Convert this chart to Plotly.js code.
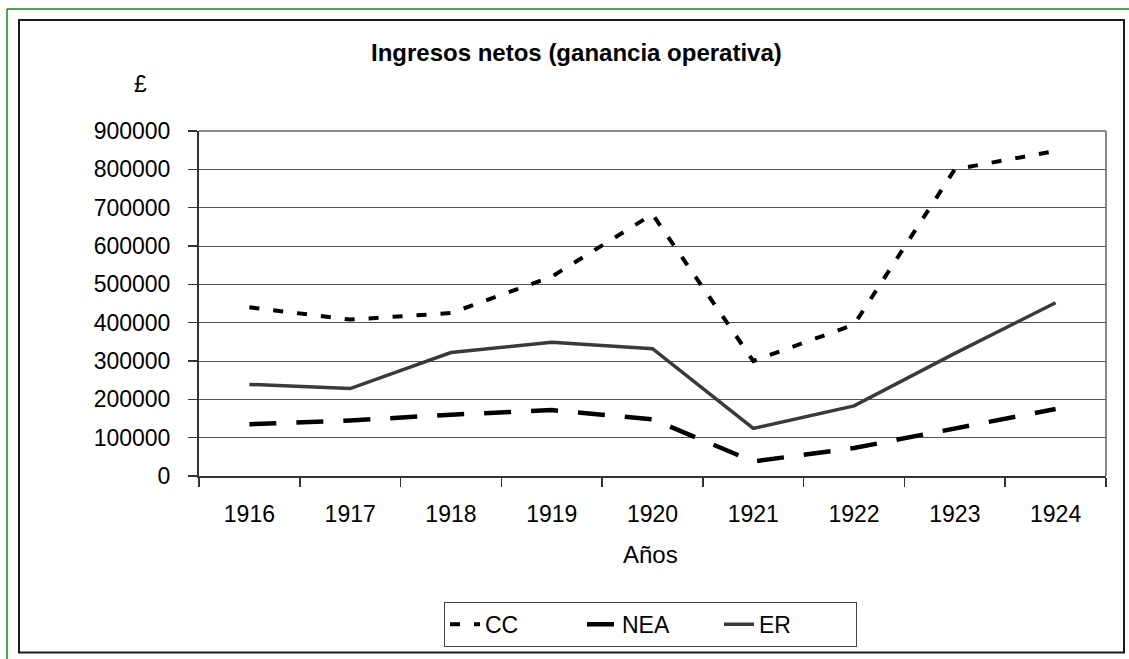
<!DOCTYPE html>
<html>
<head>
<meta charset="utf-8">
<script src="https://cdn.plot.ly/plotly-3.0.1.min.js"></script>
<style>
  html, body { margin: 0; padding: 0; background: #ffffff; }
  #chart { width: 1129px; height: 659px; }
</style>
</head>
<body>
<div id="chart"></div>
<script>
// ---- Data ----
const years = ["1916", "1917", "1918", "1919", "1920", "1921", "1922", "1923", "1924"];
const ccValues  = [440000, 408000, 425000, 520000, 683000, 300000, 395000, 800000, 848000];
const neaValues = [135000, 145000, 160000, 172000, 148000, 38000, 73000, 125000, 175000];
const erValues  = [239000, 228000, 322000, 349000, 332000, 124000, 183000, 320000, 452000];
const seriesNames = ["CC", "NEA", "ER"];
const chartTitle = "Ingresos netos (ganancia operativa)";
const xTitle = "Años";
const yTitle = "£";

// ---- Layout geometry (pixels) ----
const W = 1129, H = 659;
const plotL = 199, plotR = 1106, plotT = 131, plotB = 479;
const pw = plotR - plotL, ph = plotB - plotT;
const fx = px => (px - plotL) / pw;
const fy = py => (plotB - py) / ph;

const FONT = "Liberation Sans, Arial, sans-serif";

const traces = [
  { x: years, y: ccValues, name: seriesNames[0], type: "scatter", mode: "lines",
    line: { color: "#000000", width: 4, dash: "10px,14px" } },
  { x: years, y: neaValues, name: seriesNames[1], type: "scatter", mode: "lines",
    line: { color: "#000000", width: 4.5, dash: "27px,20px" } },
  { x: years, y: erValues, name: seriesNames[2], type: "scatter", mode: "lines",
    line: { color: "#3a3a3a", width: 3.5 } }
];

const layout = {
  width: W, height: H,
  paper_bgcolor: "#ffffff", plot_bgcolor: "#ffffff",
  margin: { l: plotL, r: W - plotR, t: plotT, b: H - plotB, pad: 0 },
  font: { family: FONT, size: 23, color: "#000000" },
  showlegend: true,
  legend: {
    orientation: "h",
    x: fx(650.5), xanchor: "center",
    y: fy(628.5), yanchor: "middle",
    bordercolor: "#444444", borderwidth: 1,
    bgcolor: "#ffffff",
    font: { family: FONT, size: 23, color: "#000000" },
    entrywidth: 92, entrywidthmode: "pixels",
    traceorder: "normal"
  },
  xaxis: {
    type: "category",
    range: [-0.5, 8.5],
    tickson: "boundaries",
    ticks: "outside", ticklen: 9, tickwidth: 1.5, tickcolor: "#333333",
    showline: true, linecolor: "#333333", linewidth: 2,
    showgrid: false, zeroline: false,
    ticklabelstandoff: 16,
    tickfont: { family: FONT, size: 23, color: "#000000" },
    fixedrange: true
  },
  yaxis: {
    range: [0, 900000],
    dtick: 100000, tick0: 0,
    tickformat: "d",
    ticks: "outside", ticklen: 9, tickwidth: 1.5, tickcolor: "#333333",
    showline: true, linecolor: "#333333", linewidth: 2,
    showgrid: true, gridcolor: "#555555", gridwidth: 1,
    zeroline: false,
    ticklabelstandoff: 13,
    tickfont: { family: FONT, size: 23, color: "#000000" },
    fixedrange: true
  },
  annotations: [
    { text: "<b>" + chartTitle + "</b>", xref: "paper", yref: "paper",
      x: fx(576), y: fy(52), xanchor: "center", yanchor: "middle", showarrow: false,
      font: { family: FONT, size: 24, color: "#000000" } },
    { text: yTitle, xref: "paper", yref: "paper",
      x: fx(140), y: fy(84), xanchor: "center", yanchor: "middle", showarrow: false,
      font: { family: FONT, size: 23, color: "#000000" } },
    { text: xTitle, xref: "paper", yref: "paper",
      x: fx(650), y: fy(558), xanchor: "center", yanchor: "middle", showarrow: false,
      font: { family: FONT, size: 24, color: "#000000" } }
  ],
  shapes: [
    // outer green frame: only top and left edges are inside the picture
    { type: "line", xref: "paper", yref: "paper",
      x0: fx(7), x1: fx(W + 5), y0: fy(8), y1: fy(8),
      line: { color: "#108a10", width: 1.5 }, layer: "below" },
    { type: "line", xref: "paper", yref: "paper",
      x0: fx(7), x1: fx(7), y0: fy(8), y1: fy(H + 5),
      line: { color: "#108a10", width: 1.5 }, layer: "below" },
    // chart area border
    { type: "rect", xref: "paper", yref: "paper",
      x0: fx(19), x1: fx(1124), y0: fy(19), y1: fy(657),
      line: { color: "#1a1a1a", width: 2 }, fillcolor: "rgba(0,0,0,0)", layer: "below" },
    // plot area border (top & right, gray)
    { type: "line", xref: "paper", yref: "paper", x0: 0, x1: 1, y0: 1, y1: 1,
      line: { color: "#8a8a8a", width: 2 }, layer: "below" },
    { type: "line", xref: "paper", yref: "paper", x0: 1, x1: 1, y0: 0, y1: 1,
      line: { color: "#8a8a8a", width: 2 }, layer: "below" }
  ]
};

Plotly.newPlot("chart", traces, layout, { displayModeBar: false, staticPlot: true });
</script>
</body>
</html>
